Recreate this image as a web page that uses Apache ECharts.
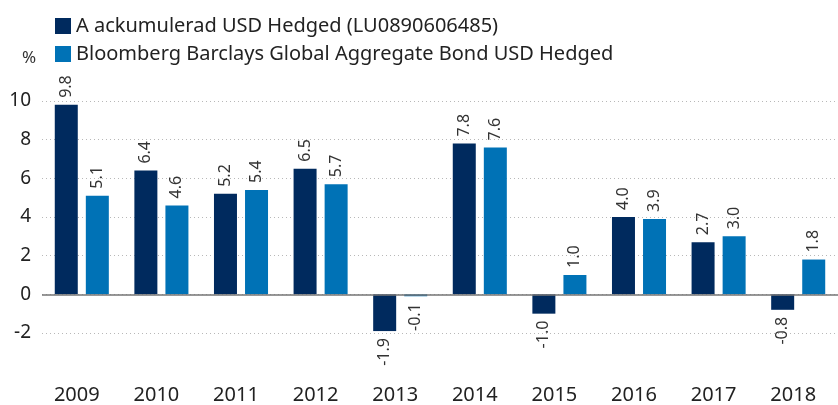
<!DOCTYPE html>
<html>
<head>
<meta charset="utf-8">
<script src="https://cdn.jsdelivr.net/npm/echarts@6/dist/echarts.min.js"></script>
<style>
html, body { margin: 0; padding: 0; background: #fff; }
#chart { width: 838px; height: 405px; }
</style>
</head>
<body>
<div id="chart"></div>
<script>
const years = ['2009', '2010', '2011', '2012', '2013', '2014', '2015', '2016', '2017', '2018'];
const fund = [9.8, 6.4, 5.2, 6.5, -1.9, 7.8, -1.0, 4.0, 2.7, -0.8];
const index = [5.1, 4.6, 5.4, 5.7, -0.1, 7.6, 1.0, 3.9, 3.0, 1.8];
const fund_name = 'A ackumulerad USD Hedged (LU0890606485)';
const index_name = 'Bloomberg Barclays Global Aggregate Bond USD Hedged';

const font = 'Noto Sans';

// labels sit above positive bars and below negative ones, rotated
function bar_data(values) {
    return values.map(v => ({
        value: v,
        label: v < 0
            ? { position: 'bottom', align: 'right' }
            : { position: 'top', align: 'left' }
    }));
}

let chart = echarts.init(document.getElementById('chart'));
chart.setOption({
    animation: false,
    title: {
        text: '%', left: 17, top: 45,
        textStyle: { fontFamily: font, fontSize: 17, fontWeight: 'normal', color: '#333' }
    },
    legend: {
        orient: 'vertical', left: 50, top: 11,
        itemWidth: 16, itemHeight: 16, itemGap: 8,
        icon: 'rect',
        textStyle: { fontFamily: font, fontSize: 20, color: '#222' }
    },
    grid: { left: 42, right: -5, top: 101, bottom: 72 },
    xAxis: {
        type: 'category',
        data: years,
        axisLine: { show: false },
        axisTick: { show: false },
        axisLabel: { margin: 52, padding: [0, 10, 0, 0], fontFamily: font, fontSize: 20, color: '#222' }
    },
    yAxis: {
        type: 'value',
        min: -2, max: 10, interval: 2,
        axisLabel: { margin: 11, fontFamily: font, fontSize: 19, color: '#222' },
        splitLine: { lineStyle: { type: [1, 3], color: '#b8b8b8' } }
    },
    series: [
        {
            name: fund_name,
            type: 'bar',
            data: bar_data(fund),
            barWidth: 23,
            barGap: '35%',
            itemStyle: { color: '#002a5e' },
            label: {
                show: true, rotate: 90, distance: 7, verticalAlign: 'middle',
                formatter: p => p.value.toFixed(1),
                fontFamily: font, fontSize: 16, color: '#333'
            },
            markLine: {
                silent: true, symbol: 'none', label: { show: false },
                lineStyle: { type: 'solid', color: '#757575', width: 1.5 },
                data: [{ yAxis: 0 }]
            }
        },
        {
            name: index_name,
            type: 'bar',
            data: bar_data(index),
            barWidth: 23,
            itemStyle: { color: '#0072b6' },
            label: {
                show: true, rotate: 90, distance: 7, verticalAlign: 'middle',
                formatter: p => p.value.toFixed(1),
                fontFamily: font, fontSize: 16, color: '#333'
            }
        }
    ]
});
</script>
</body>
</html>
